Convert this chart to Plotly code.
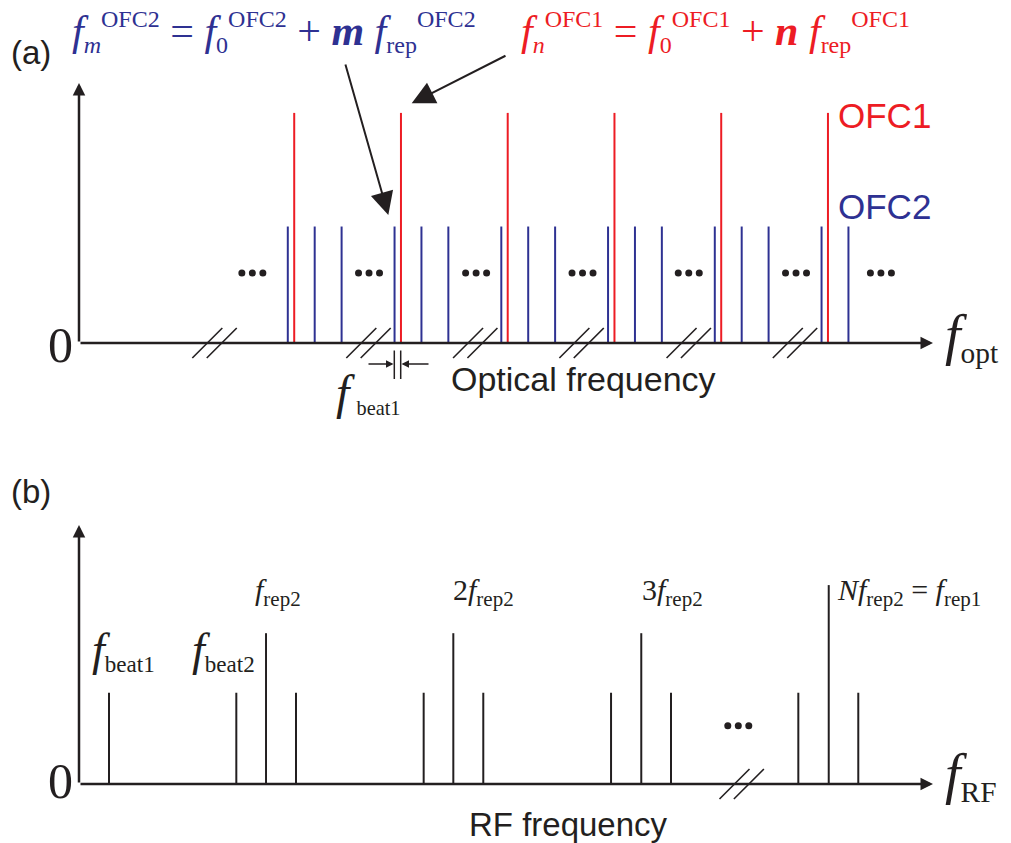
import plotly.graph_objects as go

# ---------------- data (arbitrary relative-frequency units) ----------------
# Panel (a): optical comb lines
ofc1_freq = [25.2, 37.7, 50.2, 62.7, 75.2, 87.7]
ofc1_amp = [88.5, 88.5, 88.5, 88.5, 88.5, 88.5]
ofc2_freq = [24.45, 27.6, 30.75, 36.95, 40.1, 43.25, 49.45, 52.6, 55.75,
             61.95, 65.1, 68.25, 74.45, 77.6, 80.75, 86.95, 90.1]
ofc2_amp = [44.8] * 17
ellipsis_a_x = [20.3, 33.96, 46.5, 58.96, 71.4, 83.96, 93.9]
ellipsis_a_y = [26.9] * 7
breaks_a_x = [15.87, 33.9, 46.4, 58.85, 71.4, 83.84]

# Panel (b): RF beat spectrum
rf_freq = [3.51, 18.42, 21.9, 25.41, 40.36, 43.83, 47.34,
           62.3, 65.84, 69.32, 84.23, 87.79, 91.25]
rf_amp = [35.1, 35.1, 58.0, 35.1, 35.1, 58.0, 35.1,
          35.1, 58.0, 35.1, 35.1, 76.5, 35.1]
ellipsis_b_x = [77.2]
ellipsis_b_y = [22.4]
breaks_b_x = [77.6]

RED = "#ED1C24"
BLUE = "#2E3192"
BLACK = "#231F20"
SERIF = "Liberation Serif"
SANS = "Liberation Sans"

# ---------------- geometry helpers (layout only) ----------------
W, H = 1011, 843
X0, SX = 79.0, 8.54          # px of x=0, px per unit
YA0, YB0, SY = 343.0, 784.0, 2.6
SPLIT = 421.0


def ux(px):
    return (px - X0) / SX


def uya(py):
    return (YA0 - py) / SY


def uyb(py):
    return (YB0 - py) / SY


def stems(xs, hs):
    X, Y = [], []
    for x, h in zip(xs, hs):
        X += [x, x, None]
        Y += [0, h, None]
    return X, Y


def slashes(centers):
    X, Y = [], []
    dx, dy, off = 15 / SX, 15 / SY, 7.2 / SX
    for c in centers:
        for o in (-off, off):
            X += [c + o - dx, c + o + dx, None]
            Y += [-dy, dy, None]
    return X, Y


def dots(xs, ys):
    X, Y = [], []
    d = 10.5 / SX
    for x, y in zip(xs, ys):
        X += [x - d, x, x + d]
        Y += [y, y, y]
    return X, Y


fig = go.Figure()

# panel a
x, y = stems(ofc2_freq, ofc2_amp)
fig.add_trace(go.Scatter(x=x, y=y, mode="lines", line=dict(color=BLUE, width=2),
                         xaxis="x", yaxis="y", hoverinfo="skip"))
x, y = stems(ofc1_freq, ofc1_amp)
fig.add_trace(go.Scatter(x=x, y=y, mode="lines", line=dict(color=RED, width=2),
                         xaxis="x", yaxis="y", hoverinfo="skip"))
x, y = slashes(breaks_a_x)
fig.add_trace(go.Scatter(x=x, y=y, mode="lines", line=dict(color=BLACK, width=1.6),
                         xaxis="x", yaxis="y", hoverinfo="skip"))
x, y = dots(ellipsis_a_x, ellipsis_a_y)
fig.add_trace(go.Scatter(x=x, y=y, mode="markers", marker=dict(color=BLACK, size=7),
                         xaxis="x", yaxis="y", hoverinfo="skip"))

# panel b
x, y = stems(rf_freq, rf_amp)
fig.add_trace(go.Scatter(x=x, y=y, mode="lines", line=dict(color=BLACK, width=2),
                         xaxis="x2", yaxis="y2", hoverinfo="skip"))
x, y = slashes(breaks_b_x)
fig.add_trace(go.Scatter(x=x, y=y, mode="lines", line=dict(color=BLACK, width=1.6),
                         xaxis="x2", yaxis="y2", hoverinfo="skip"))
x, y = dots(ellipsis_b_x, ellipsis_b_y)
fig.add_trace(go.Scatter(x=x, y=y, mode="markers", marker=dict(color=BLACK, size=7),
                         xaxis="x2", yaxis="y2", hoverinfo="skip"))

ann = []


def arrow(x, y, ax, ay, panel, width=2.5, size=1.0, head=2):
    ann.append(dict(x=x, y=y, ax=ax, ay=ay, xref="x" if panel == "a" else "x2",
                    yref="y" if panel == "a" else "y2",
                    axref="x" if panel == "a" else "x2",
                    ayref="y" if panel == "a" else "y2",
                    text="", showarrow=True, arrowhead=head, arrowsize=size,
                    arrowwidth=width, arrowcolor=BLACK, standoff=0, startstandoff=0))


def label(text, px, py, panel, size, color=BLACK, family=SERIF,
          xanchor="left", yanchor="middle"):
    ann.append(dict(x=ux(px), y=uya(py) if panel == "a" else uyb(py),
                    xref="x" if panel == "a" else "x2",
                    yref="y" if panel == "a" else "y2",
                    text=text, showarrow=False, xanchor=xanchor, yanchor=yanchor,
                    font=dict(family=family, size=size, color=color)))


# axes with arrows
arrow(ux(933), 0, 0, 0, "a", width=2.5, size=1.0)
arrow(0, uya(83), 0, 0, "a", width=2.5, size=1.0)
arrow(ux(933), 0, 0, 0, "b", width=2.5, size=1.0)
arrow(0, uyb(525), 0, 0, "b", width=2.5, size=1.0)

# formula pointer arrows
arrow(ux(388.3), uya(215), ux(345), uya(63), "a", width=2, size=2.3)
arrow(ux(411.7), uya(103.3), ux(507), uya(55), "a", width=2, size=2.3)

# f_beat1 spacing arrows
arrow(ux(393.5), uya(364), ux(367), uya(364), "a", width=1.5, size=1.0)
arrow(ux(401.5), uya(364), ux(430), uya(364), "a", width=1.5, size=1.0)

shapes = []
for px in (394.3, 400.7):
    shapes.append(dict(type="line", xref="x", yref="y", x0=ux(px), x1=ux(px),
                       y0=uya(350.5), y1=uya(379), line=dict(color=BLACK, width=1.5)))


def s(t):
    return '<span style="font-size:24px">' + t + '</span>'


# texts
label("(a)", 9, 52, "a", 33, family=SANS)
label("(b)", 9, 491, "b", 33, family=SANS)

NB = "\u00a0"
blue_f = ("<i>f</i><sub>" + s("<i>m</i>") + "</sub><sup>" + s("OFC2") + "</sup> = <i>f</i><sub>"
          + s("0") + "</sub><sup>" + s("OFC2") + "</sup> + <b><i>m</i></b>" + NB + "<i>f</i><sub>"
          + s("rep") + "</sub><sup>" + s("OFC2") + "</sup>")
red_f = ("<i>f</i><sub>" + s("<i>n</i>") + "</sub><sup>" + s("OFC1") + "</sup> = <i>f</i><sub>"
         + s("0") + "</sub><sup>" + s("OFC1") + "</sup> + <b><i>n</i></b>" + NB + "<i>f</i><sub>"
         + s("rep") + "</sub><sup>" + s("OFC1") + "</sup>")
label(blue_f, 70, 32, "a", 42, color=BLUE)
label(red_f, 519, 32, "a", 42, color=RED)

label("OFC1", 836, 115, "a", 35, color=RED, family=SANS)
label("OFC2", 836, 206, "a", 35, color=BLUE, family=SANS)

label("0", 60, 345, "a", 50, xanchor="center")
label("0", 60, 781, "b", 50, xanchor="center")

label('<span style="font-size:56px"><i>f</i></span><sub>opt</sub>', 943, 336, "a", 42)
label('<span style="font-size:56px"><i>f</i></span><sub>RF</sub>', 943, 775, "b", 42)

label('<span style="font-size:48px"><i>f</i></span>' + NB + '<sub>beat1</sub>', 334, 392, "a", 29)
label("Optical frequency", 583, 379, "a", 34, family=SANS, xanchor="center")
label("RF frequency", 568, 824, "b", 33, family=SANS, xanchor="center")

label('<span style="font-size:46px"><i>f</i></span><sub>beat1</sub>', 90, 650, "b", 33)
label('<span style="font-size:46px"><i>f</i></span><sub>beat2</sub>', 190, 650, "b", 33)
label("<i>f</i><sub>rep2</sub>", 253, 592, "b", 30)
label("2<i>f</i><sub>rep2</sub>", 451, 592, "b", 30)
label("3<i>f</i><sub>rep2</sub>", 640, 592, "b", 30)
label("<i>Nf</i><sub>rep2</sub> = <i>f</i><sub>rep1</sub>", 835, 592, "b", 30)

ax_common = dict(visible=False, showgrid=False, zeroline=False, fixedrange=True)
fig.update_layout(
    width=W, height=H, autosize=False,
    margin=dict(l=0, r=0, t=0, b=0, pad=0),
    paper_bgcolor="white", plot_bgcolor="white",
    showlegend=False,
    xaxis=dict(domain=[0, 1], range=[ux(0), ux(W)], anchor="y", **ax_common),
    yaxis=dict(domain=[1 - SPLIT / H, 1], range=[uya(SPLIT), uya(0)], anchor="x", **ax_common),
    xaxis2=dict(domain=[0, 1], range=[ux(0), ux(W)], anchor="y2", **ax_common),
    yaxis2=dict(domain=[0, 1 - SPLIT / H], range=[uyb(H), uyb(SPLIT)], anchor="x2", **ax_common),
    annotations=ann,
    shapes=shapes,
)

fig.write_html("out.html", config={"displayModeBar": False},
               post_script="document.body.style.margin='0';document.body.style.overflow='hidden';")
